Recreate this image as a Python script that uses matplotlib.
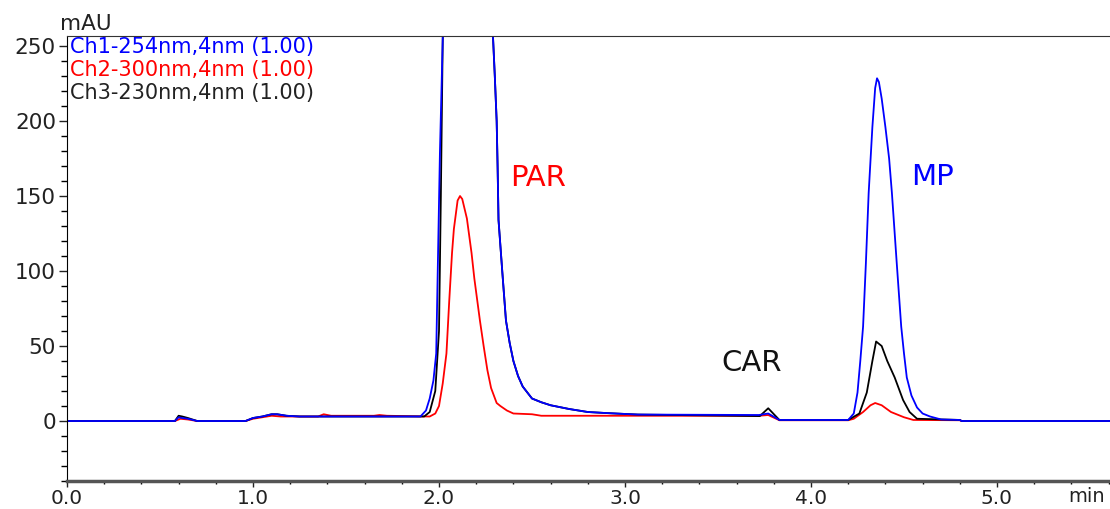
import matplotlib
matplotlib.use("Agg")
import matplotlib.pyplot as plt
from matplotlib.ticker import MultipleLocator, FixedLocator

plt.rcParams['font.family'] = ['DejaVu Sans']

# Ch1 254 nm (blue)
t1 = [0.0, 0.58, 0.60, 0.62, 0.65, 0.70, 0.96, 1.00, 1.05, 1.10, 1.13, 1.18, 1.25,
      1.40, 1.60, 1.90, 1.93, 1.95, 1.97, 1.985, 1.995, 2.005, 2.02, 2.05, 2.10, 2.20,
      2.27, 2.29, 2.30, 2.31, 2.315, 2.32, 2.34, 2.36, 2.38, 2.40, 2.425, 2.45, 2.50,
      2.55, 2.60, 2.70, 2.80, 2.90, 3.00, 3.07, 3.72, 3.77, 3.83, 4.20, 4.23, 4.25,
      4.265, 4.28, 4.295, 4.31, 4.33, 4.345, 4.355, 4.365, 4.38, 4.40, 4.42, 4.435,
      4.46, 4.485, 4.50, 4.515, 4.54, 4.57, 4.60, 4.64, 4.70, 4.80, 4.81, 5.61]
y1 = [0, 0, 2.5, 2.0, 1.5, 0, 0, 2.0, 3.0, 4.5, 4.5, 3.5, 3.0,
      3.0, 3.0, 3.0, 7, 15, 27, 45, 112, 179, 254, 420, 600, 600,
      420, 257, 230, 200, 170, 134, 100, 67, 52, 40, 30, 23, 15,
      12.5, 10.5, 8.0, 6.0, 5.3, 4.7, 4.3, 4.0, 5.0, 0.7, 0.7, 5, 19,
      40, 63, 105, 152, 196, 222, 228.5, 226, 215, 196, 175, 152,
      107, 63, 45, 29, 17, 9, 5, 3, 1.0, 0.7, 0, 0]

# Ch2 300 nm (red)
t2 = [0.0, 0.58, 0.61, 0.65, 0.70, 0.96, 1.00, 1.10, 1.15, 1.35, 1.38, 1.42, 1.65,
      1.68, 1.72, 1.95, 1.98, 2.00, 2.02, 2.04, 2.055, 2.07, 2.08, 2.10, 2.113, 2.125,
      2.15, 2.175, 2.19, 2.22, 2.24, 2.26, 2.28, 2.31, 2.33, 2.365, 2.40, 2.50, 2.55,
      3.07, 3.72, 3.77, 3.83, 4.20, 4.23, 4.28, 4.32, 4.345, 4.38, 4.43, 4.50, 4.55,
      4.80, 4.81, 5.61]
y2 = [0, 0, 1.5, 1.0, 0, 0, 1.5, 3.5, 3.0, 3.0, 4.5, 3.5, 3.5,
      4.0, 3.5, 3.0, 5, 10, 25, 45, 80, 112, 128, 147, 150, 148,
      135, 112, 95, 67, 50, 34, 22, 12, 10, 7, 5, 4.5, 3.5,
      3.5, 3.5, 4.0, 0.5, 0.5, 1.5, 6, 10.5, 12, 10.5, 6, 2.5, 0.7,
      0.5, 0, 0]

# Ch3 230 nm (black)
t3 = [0.0, 0.58, 0.60, 0.62, 0.65, 0.70, 0.96, 1.00, 1.05, 1.10, 1.13, 1.18, 1.25,
      1.40, 1.60, 1.92, 1.95, 1.98, 2.00, 2.01, 2.02, 2.05, 2.10, 2.20,
      2.27, 2.29, 2.30, 2.31, 2.315, 2.32, 2.34, 2.36, 2.38, 2.40, 2.425, 2.45, 2.50,
      2.55, 2.60, 2.70, 2.80, 2.90, 3.00, 3.07, 3.725, 3.77, 3.83, 4.20, 4.26, 4.30,
      4.33, 4.35, 4.38, 4.41, 4.45, 4.495, 4.53, 4.57, 4.80, 4.81, 5.61]
y3 = [0, 0, 3.5, 3.0, 2.0, 0, 0, 2.0, 3.0, 4.5, 4.5, 3.5, 3.0,
      3.0, 3.0, 3.0, 6, 20, 60, 150, 254, 420, 600, 600,
      420, 257, 230, 200, 170, 134, 100, 67, 52, 40, 30, 23, 15,
      12.5, 10.5, 8.0, 6.0, 5.3, 4.7, 4.3, 3.3, 8.5, 0.7, 0.7, 5, 19,
      40, 53, 50, 40, 29, 14, 6, 1.5, 0.7, 0, 0]

labels = ['Ch1-254nm,4nm (1.00)', 'Ch2-300nm,4nm (1.00)', 'Ch3-230nm,4nm (1.00)']
colors = ['#0000ff', '#ff0000', '#222222']

fig = plt.figure(figsize=(11.10, 5.09), dpi=100)
ax = fig.add_axes([67 / 1110, 28 / 509, 1043 / 1110, 445 / 509])

ax.plot(t2, y2, color='#ff0000', lw=1.3)
ax.plot(t3, y3, color='#000000', lw=1.3)
ax.plot(t1, y1, color='#0000ff', lw=1.3)

ax.set_xlim(0, 1043 / 186)
ax.set_ylim(-40.0, 256.7)

ax.xaxis.set_major_locator(FixedLocator([0, 1, 2, 3, 4, 5]))
ax.xaxis.set_minor_locator(MultipleLocator(0.2))
ax.yaxis.set_major_locator(MultipleLocator(50))
ax.yaxis.set_minor_locator(MultipleLocator(10))
ax.set_xticklabels(['0.0', '1.0', '2.0', '3.0', '4.0', '5.0'])
ax.tick_params(which='major', direction='out', colors='#222222')
ax.tick_params(axis='y', which='major', length=6, width=1, pad=2, labelsize=15.5)
ax.tick_params(axis='y', which='minor', length=4, width=1)
ax.tick_params(axis='x', which='major', length=4, width=1, pad=2, labelsize=14.5)
ax.tick_params(axis='x', which='minor', length=2, width=1)

ax.spines['right'].set_visible(False)
ax.spines['top'].set_color('#333333')
ax.spines['bottom'].set_color('#555555')
ax.spines['bottom'].set_linewidth(2.5)

for i, (lab, c) in enumerate(zip(labels, colors)):
    ax.text(0.003, 0.976 - i * 0.052, lab, color=c, fontsize=15,
            transform=ax.transAxes, va='center', ha='left')

ax.text(2.38, 162, 'PAR', color='#ff0000', fontsize=21, va='center', ha='left')
ax.text(4.54, 163, 'MP', color='#0000ff', fontsize=21, va='center', ha='left')
ax.text(3.52, 39, 'CAR', color='#111111', fontsize=21, va='center', ha='left')

fig.text(60 / 1110, 1 - 24 / 509, 'mAU', fontsize=15.5, color='#222222', va='center', ha='left')
fig.text(1068 / 1110, 1 - 496 / 509, 'min', fontsize=14, color='#222222', va='center', ha='left')

fig.savefig('out.png', dpi=100)
